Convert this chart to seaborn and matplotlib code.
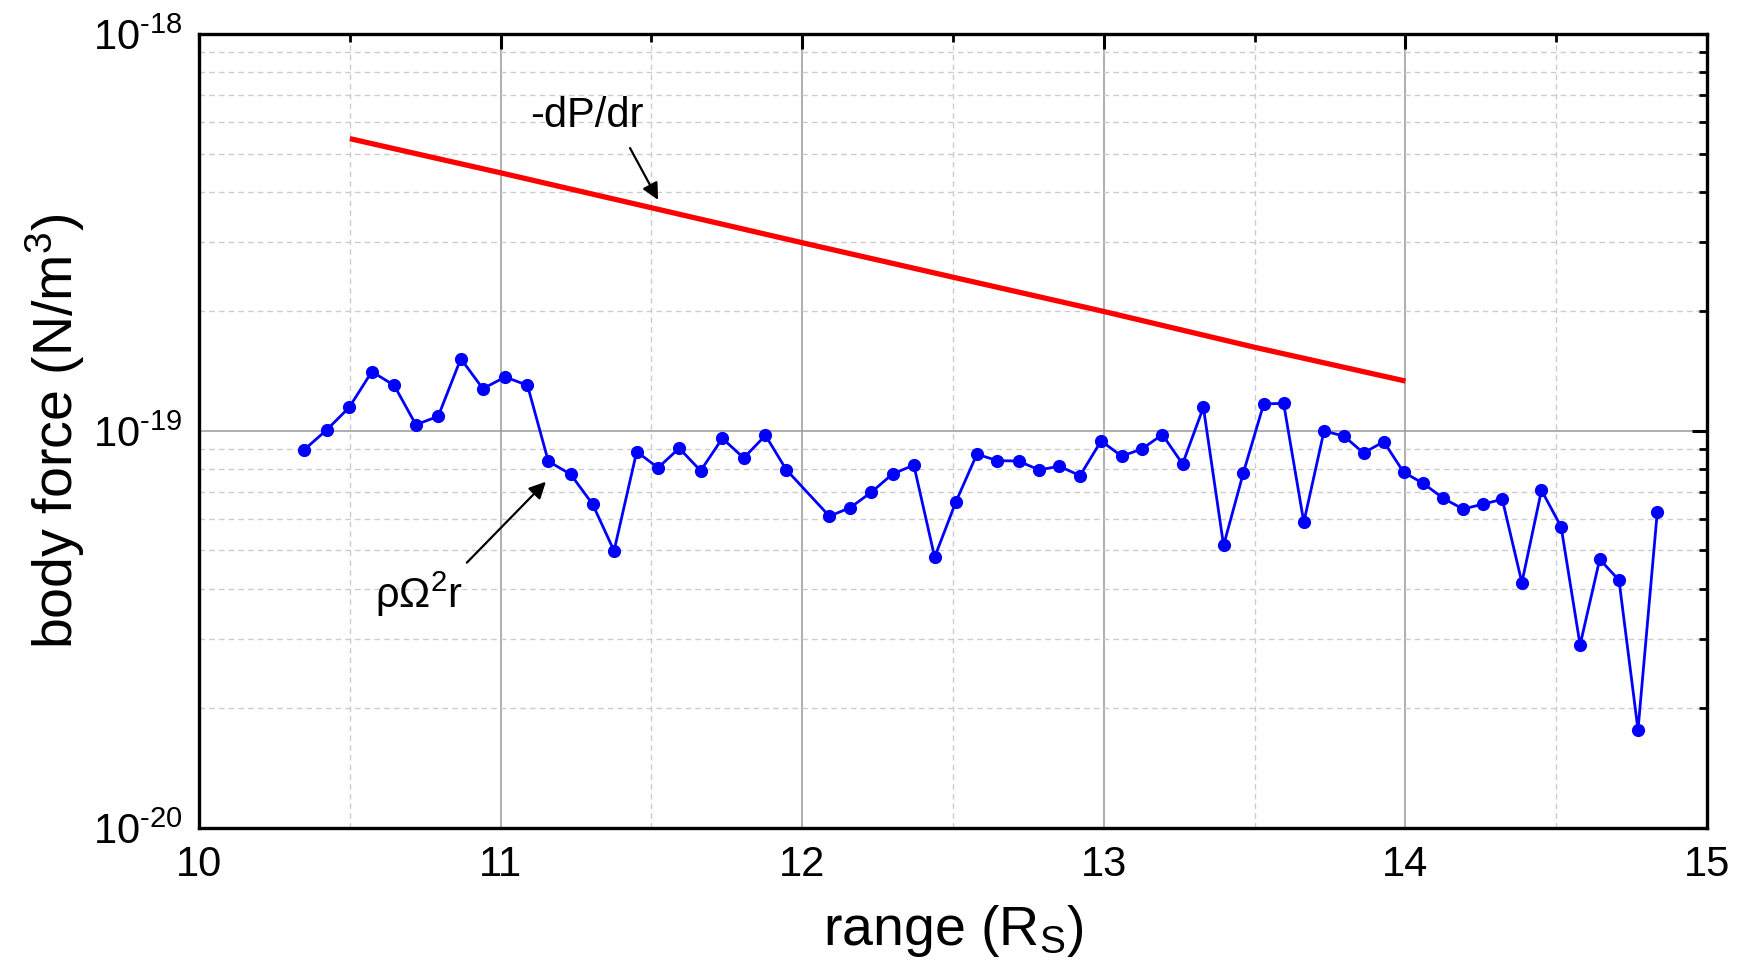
import numpy as np
import pandas as pd
import matplotlib
matplotlib.use("Agg")
import matplotlib.pyplot as plt
import matplotlib.ticker as mticker
import seaborn as sns

# ---- data ----
range_rs = [10.348, 10.423, 10.498, 10.573, 10.647, 10.719, 10.793, 10.868, 10.941, 11.015,
            11.089, 11.158, 11.232, 11.305, 11.376, 11.451, 11.522, 11.592, 11.663, 11.735,
            11.806, 11.878, 11.947, 12.090, 12.159, 12.229, 12.300, 12.370, 12.439, 12.509,
            12.579, 12.647, 12.717, 12.785, 12.852, 12.921, 12.991, 13.059, 13.126, 13.194,
            13.261, 13.330, 13.397, 13.462, 13.530, 13.596, 13.663, 13.730, 13.796, 13.861,
            13.928, 13.994, 14.059, 14.125, 14.191, 14.256, 14.321, 14.386, 14.451, 14.516,
            14.579, 14.644, 14.708, 14.771, 14.835]
centrifugal_e20 = [8.96, 10.06, 11.47, 14.11, 13.03, 10.37, 10.89, 15.21, 12.78, 13.68,
                   13.03, 8.39, 7.78, 6.54, 4.99, 8.87, 8.08, 9.05, 7.94, 9.58,
                   8.55, 9.75, 7.99, 6.10, 6.41, 7.01, 7.80, 8.20, 4.81, 6.62,
                   8.74, 8.42, 8.40, 7.98, 8.15, 7.72, 9.44, 8.64, 9.01, 9.79,
                   8.26, 11.47, 5.15, 7.82, 11.70, 11.74, 5.89, 10.0, 9.71, 8.80,
                   9.40, 7.87, 7.38, 6.77, 6.36, 6.54, 6.73, 4.15, 7.09, 5.74,
                   2.89, 4.75, 4.21, 1.766, 6.26]
pressure_range = [10.5, 11.0, 11.5, 12.0, 12.5, 13.0, 13.5, 14.0]
pressure_e20 = [54.5, 44.7, 36.5, 29.8, 24.4, 20.0, 16.25, 13.36]
y_exponents = [-20, -19, -18]

df_c = pd.DataFrame({"r": range_rs, "f": np.array(centrifugal_e20) * 1e-20})
df_p = pd.DataFrame({"r": pressure_range, "f": np.array(pressure_e20) * 1e-20})

# ---- style ----
sns.set_style("white")
plt.rcParams["font.family"] = ["Liberation Sans", "DejaVu Sans"]
plt.rcParams["mathtext.fontset"] = "custom"
plt.rcParams["mathtext.rm"] = "Liberation Sans"
plt.rcParams["mathtext.it"] = "Liberation Sans:italic"
plt.rcParams["mathtext.default"] = "regular"
plt.rcParams["axes.unicode_minus"] = False
for k in ["text.color", "axes.labelcolor", "xtick.color", "ytick.color", "axes.edgecolor"]:
    plt.rcParams[k] = "black"

fig = plt.figure(figsize=(17.46, 9.63), dpi=100)
ax = fig.add_axes([0.114, 0.1402, 0.8637, 0.8245])

sns.lineplot(data=df_p, x="r", y="f", ax=ax, color="#ff0000", linewidth=3.8,
             solid_capstyle="butt", zorder=4)
sns.lineplot(data=df_c, x="r", y="f", ax=ax, color="#0000ff", linewidth=2.0,
             marker="o", markersize=9.5, markeredgewidth=0, zorder=5)

ax.set_yscale("log")
ax.set_xlim(10, 15)
ax.set_ylim(1e-20, 1e-18)

ax.xaxis.set_major_locator(mticker.MultipleLocator(1))
ax.xaxis.set_minor_locator(mticker.MultipleLocator(0.5))
major_vals = [10.0 ** e for e in y_exponents]
minor_vals = [m * 10.0 ** e for e in y_exponents[:-1] for m in range(2, 10)]
ax.yaxis.set_major_locator(mticker.FixedLocator(major_vals))
ax.yaxis.set_minor_locator(mticker.FixedLocator(minor_vals))
ax.yaxis.set_minor_formatter(mticker.NullFormatter())
ax.yaxis.set_major_formatter(mticker.FixedFormatter(
    [r"10$^{\text{%d}}$" % e for e in y_exponents]))

ax.grid(True, which="major", color="#999999", linewidth=1.1, linestyle="-")
ax.grid(True, which="minor", color="#cccccc", linewidth=1.0, linestyle=(0, (4, 3)))
ax.set_axisbelow(True)

for s in ax.spines.values():
    s.set_linewidth(2.4)
    s.set_color("black")

ax.tick_params(which="both", direction="in", top=True, right=True, color="black",
               labelcolor="black")
ax.tick_params(which="major", length=11, width=2.2, labelsize=30, pad=12)
ax.tick_params(which="minor", length=6, width=2.0)

ax.set_xlabel(r"range (R$_\mathregular{S}$)", fontsize=40, labelpad=13)
ax.set_ylabel(r"body force (N/m$^3$)", fontsize=40, labelpad=4)

arrow_kw = dict(arrowstyle="-|>", color="black", lw=1.6, mutation_scale=25,
                shrinkA=0, shrinkB=0)
ax.text(11.286, 6.21e-19, "-dP/dr", fontsize=30, ha="center", va="center")
ax.annotate("", xy=(11.522, 3.82e-19), xytext=(11.429, 5.16e-19), arrowprops=arrow_kw)
ax.text(10.729, 3.88e-20, r"ρΩ$^2$r", fontsize=30, ha="center", va="center")
ax.annotate("", xy=(11.150, 7.45e-20), xytext=(10.888, 4.66e-20), arrowprops=arrow_kw)

fig.savefig("out.png", dpi=100)
